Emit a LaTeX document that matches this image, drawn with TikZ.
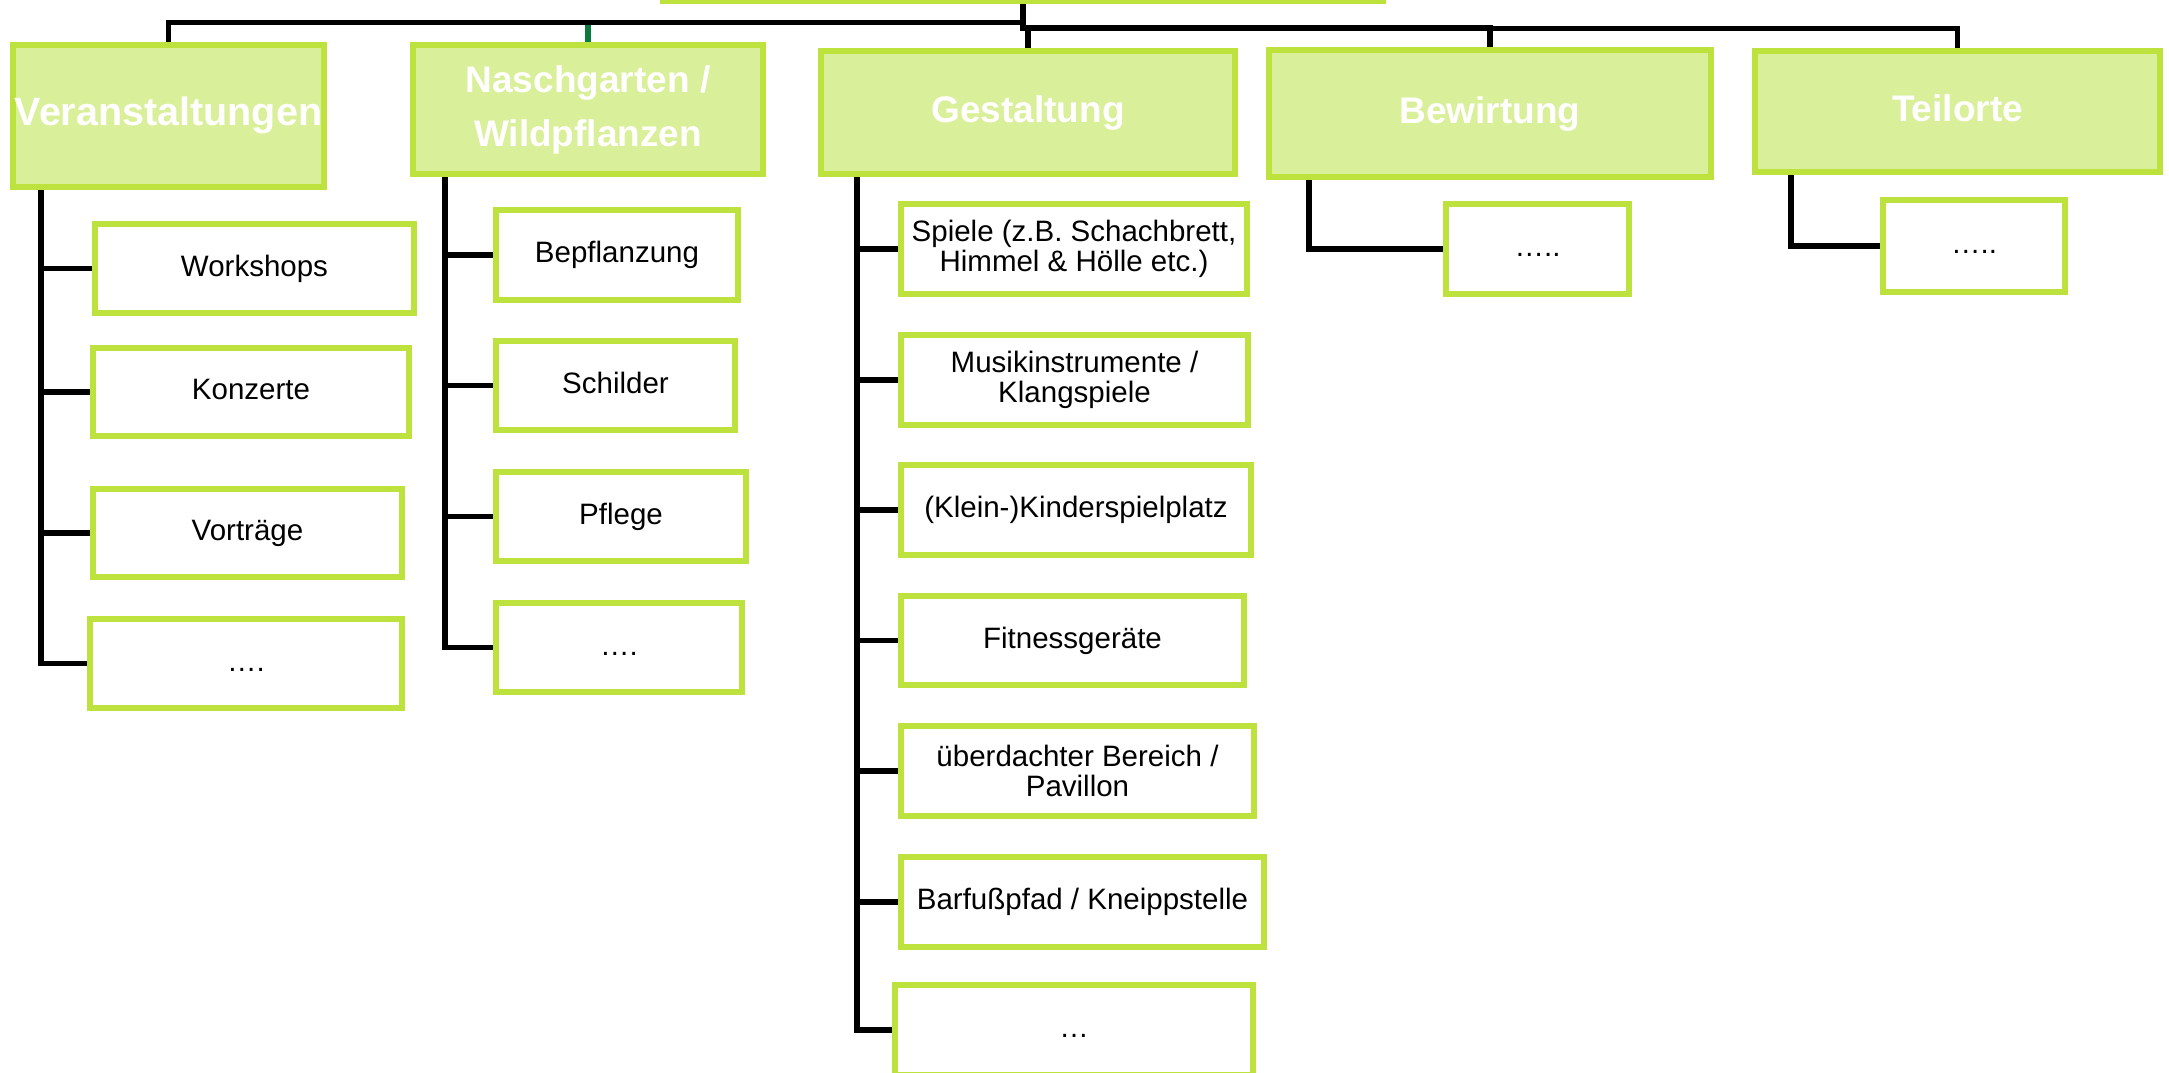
\documentclass[tikz,border=0pt]{standalone}
\usepackage{fontspec}
\setmainfont{Liberation Sans}
\usetikzlibrary{calc}
\usetikzlibrary{backgrounds}
\definecolor{mylime}{RGB}{189,226,62}
\definecolor{mylightlime}{RGB}{217,239,153}
\definecolor{mydarkgreen}{RGB}{12,122,60}
\tikzset{
  lvlone/.style={draw=mylime, fill=mylightlime, line width=6pt, inner sep=0pt,
    align=center, text=white, font=\fontsize{37}{54}\selectfont\bfseries},
  lvltwo/.style={draw=mylime, fill=white, line width=6pt, inner sep=0pt,
    align=center, font=\fontsize{29.5}{30.5}\selectfont},
  headone/.style={text height=27pt, text depth=8pt},
  subone/.style={text height=21pt, text depth=6pt},
  conn/.style={line width=5.5pt, black},
}

\begin{document}
\begin{tikzpicture}[x=1pt, y=-1pt]
    \useasboundingbox (0,0) rectangle (2169,1072);
    \clip (0,0) rectangle (2169,1072);

    % ROOT
    \node[lvlone, minimum width=720pt, minimum height=100pt] (root) at (1023,-49) {};

    % FIRST LEVEL
    \node[lvlone, headone, font=\fontsize{39.5}{54}\selectfont\bfseries, minimum width=311pt, minimum height=142pt] (veran) at (168.5,116) {Veranstaltungen};
    \node[lvlone, minimum width=350pt, minimum height=129pt] (nasch) at (588,109.5) {Naschgarten /\\Wildpflanzen};
    \node[lvlone, headone, minimum width=414pt, minimum height=123pt] (gestalt) at (1028,112.5) {Gestaltung};
    \node[lvlone, headone, minimum width=442pt, minimum height=127pt] (bewirt) at (1490,113.5) {Bewirtung};
    \node[lvlone, headone, minimum width=405pt, minimum height=121pt] (teil) at (1957.5,111.5) {Teilorte};

    % VERANSTALTUNGEN
    \node[lvltwo, subone, minimum width=319pt, minimum height=89pt] (v1) at (254.5,268.5) {Workshops};
    \node[lvltwo, subone, minimum width=316pt, minimum height=88pt] (v2) at (251,392) {Konzerte};
    \node[lvltwo, subone, minimum width=309pt, minimum height=88pt] (v3) at (247.5,533) {Vorträge};
    \node[lvltwo, subone, minimum width=312pt, minimum height=89pt] (v4) at (246,663.5) {….};

    % NASCHGARTEN
    \node[lvltwo, subone, minimum width=242pt, minimum height=90pt] (n1) at (617,255) {Bepflanzung};
    \node[lvltwo, subone, minimum width=239pt, minimum height=89pt] (n2) at (615.5,385.5) {Schilder};
    \node[lvltwo, subone, minimum width=250pt, minimum height=89pt] (n3) at (621,516.5) {Pflege};
    \node[lvltwo, subone, minimum width=246pt, minimum height=89pt] (n4) at (619,647.5) {….};

    % GESTALTUNG
    \node[lvltwo, minimum width=346pt, minimum height=90pt] (g1) at (1074,249) {Spiele (z.B. Schachbrett,\\Himmel \& Hölle etc.)};
    \node[lvltwo, minimum width=347pt, minimum height=90pt] (g2) at (1074.5,380) {Musikinstrumente /\\Klangspiele};
    \node[lvltwo, subone, minimum width=350pt, minimum height=90pt] (g3) at (1076,510) {(Klein-)Kinderspielplatz};
    \node[lvltwo, subone, minimum width=343pt, minimum height=89pt] (g4) at (1072.5,640.5) {Fitnessgeräte};
    \node[lvltwo, minimum width=353pt, minimum height=90pt] (g5) at (1077.5,771) {überdachter Bereich /\\Pavillon};
    \node[lvltwo, subone, minimum width=363pt, minimum height=90pt] (g6) at (1082.5,902) {Barfußpfad / Kneippstelle};
    \node[lvltwo, subone, minimum width=358pt, minimum height=90pt] (g7) at (1074,1030) {…};

    % BEWIRTUNG / TEILORTE
    \node[lvltwo, subone, minimum width=183pt, minimum height=90pt] (b1) at (1537.5,249) {…..};
    \node[lvltwo, subone, minimum width=182pt, minimum height=92pt] (t1) at (1974,246) {…..};

    % CONNECTORS
    \begin{scope}[on background layer]
      \draw[conn, mydarkgreen] ([yshift=19.5pt]nasch.north) -- (nasch.north);
      \draw[conn] (root.south) |- ([yshift=19.5pt]veran.north) -- (veran.north);
      \draw[conn] (root.south) |- ([yshift=19.5pt]nasch.north);
      \draw[conn] (root.south) |- ([yshift=19.5pt]gestalt.north) -- (gestalt.north);
      \draw[conn] (root.south) |- ([yshift=19.5pt]bewirt.north) -- (bewirt.north);
      \draw[conn] (root.south) |- ([yshift=19.5pt]teil.north) -- (teil.north);

      \draw[conn] ([xshift=31pt]veran.south west) |- (v1.west);
      \draw[conn] ([xshift=31pt]veran.south west) |- (v2.west);
      \draw[conn] ([xshift=31pt]veran.south west) |- (v3.west);
      \draw[conn] ([xshift=31pt]veran.south west) |- (v4.west);

      \draw[conn] ([xshift=35pt]nasch.south west) |- (n1.west);
      \draw[conn] ([xshift=35pt]nasch.south west) |- (n2.west);
      \draw[conn] ([xshift=35pt]nasch.south west) |- (n3.west);
      \draw[conn] ([xshift=35pt]nasch.south west) |- (n4.west);

      \draw[conn] ([xshift=39pt]gestalt.south west) |- (g1.west);
      \draw[conn] ([xshift=39pt]gestalt.south west) |- (g2.west);
      \draw[conn] ([xshift=39pt]gestalt.south west) |- (g3.west);
      \draw[conn] ([xshift=39pt]gestalt.south west) |- (g4.west);
      \draw[conn] ([xshift=39pt]gestalt.south west) |- (g5.west);
      \draw[conn] ([xshift=39pt]gestalt.south west) |- (g6.west);
      \draw[conn] ([xshift=39pt]gestalt.south west) |- (g7.west);

      \draw[conn] ([xshift=43pt]bewirt.south west) |- (b1.west);
      \draw[conn] ([xshift=39pt]teil.south west) |- (t1.west);
    \end{scope}
\end{tikzpicture}
\end{document}
